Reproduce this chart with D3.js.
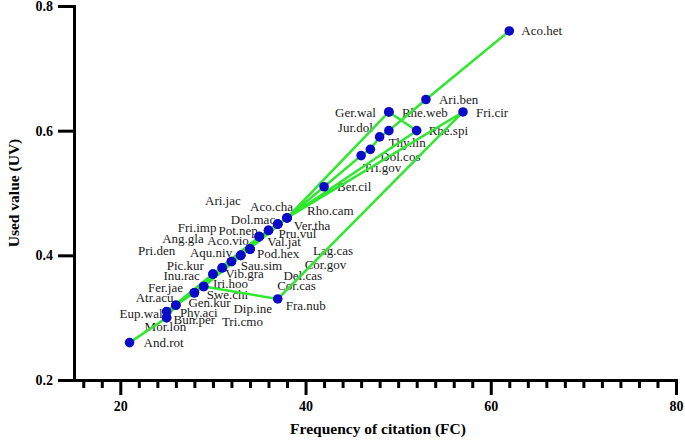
<!DOCTYPE html>
<html>
<head>
<meta charset="utf-8">
<script src="https://cdn.jsdelivr.net/npm/d3@7"></script>
<style>
  body { margin: 0; background: #fff; }
  svg text { font-family: "Liberation Serif", "Times New Roman", serif; }
</style>
</head>
<body>
<div id="container"></div>
<script>
/* CONSTANTS AND GLOBALS */
const width = 685,
  height = 440

// species in table order (the green line follows this order)
const species = ["Aco.het", "Ari.ben", "Jur.dol", "Thy.lin", "Dol.cos", "Tri.gov", "Ber.cil",
  "Rho.cam", "Ger.wal", "Rhe.web", "Rhe.spi", "Aco.cha", "Fri.cir", "Fra.nub", "Swe.chi",
  "Ari.jac", "Dol.mac", "Fer.jae", "Ver.tha", "Pot.nep", "Phy.aci", "Pru.vul", "Aco.vio",
  "Eup.wal", "Fri.imp", "Val.jat", "Ang.gla", "Pod.hex", "Pri.den", "Lag.cas", "Aqu.niv",
  "Sau.sim", "Cor.gov", "Pic.kur", "Del.cas", "Inu.rac", "Vib.gra", "Cor.cas", "Iri.hoo",
  "Atr.acu", "Gen.kur", "Dip.ine", "Tri.cmo", "Bun.per", "Mor.lon", "And.rot"]

// frequency of citation
const fc = [62, 53, 49, 48, 47, 46, 42,
  38, 49, 49, 52, 38, 57, 37, 29,
  38, 37, 30, 37, 36, 26, 36, 35,
  25, 37, 35, 35, 34, 34, 34, 34,
  33, 33, 33, 32, 32, 31, 31, 30,
  29, 28, 28, 26, 25, 25, 21]

// used value
const uv = [0.76, 0.65, 0.60, 0.59, 0.57, 0.56, 0.51,
  0.46, 0.63, 0.63, 0.60, 0.46, 0.63, 0.33, 0.35,
  0.46, 0.45, 0.37, 0.45, 0.44, 0.32, 0.44, 0.43,
  0.31, 0.45, 0.43, 0.43, 0.41, 0.41, 0.41, 0.41,
  0.40, 0.40, 0.40, 0.39, 0.39, 0.38, 0.38, 0.37,
  0.35, 0.34, 0.34, 0.32, 0.30, 0.30, 0.26]

const xMinorTicks = d3.range(16, 81, 2)
const xMajorTicks = [20, 40, 60, 80]
const yTicks = [0.2, 0.4, 0.6, 0.8]

// label placement (pixel offset from the dot, anchor)
const labelPos = {
  "Aco.het": [12, 0], "Ari.ben": [13, 0], "Ger.wal": [-13, 0, "end"], "Rhe.web": [13, 0],
  "Fri.cir": [13, 0], "Jur.dol": [-16, -3, "end"], "Rhe.spi": [12, 0], "Thy.lin": [9, 6],
  "Dol.cos": [10, 7], "Tri.gov": [2, 12], "Ber.cil": [13, 0],
  "Aco.cha": [-37, -11], "Rho.cam": [20, -7], "Ari.jac": [-82, -17],
  "Dol.mac": [-47, -5], "Ver.tha": [16, 1], "Fri.imp": [-100, 3],
  "Pot.nep": [-50, 0], "Pru.vul": [10, 3],
  "Ang.gla": [-97, 2], "Aco.vio": [-52, 4], "Val.jat": [8, 5],
  "Pri.den": [-112, 1], "Aqu.niv": [-60, 3], "Pod.hex": [7, 4], "Lag.cas": [63, 1],
  "Cor.gov": [64, 9], "Sau.sim": [0, 10], "Pic.kur": [-74, 10],
  "Inu.rac": [-68, 14], "Del.cas": [52, 14],
  "Vib.gra": [3, 6], "Cor.cas": [55, 18],
  "Iri.hoo": [0, 9], "Fer.jae": [-65, 13],
  "Swe.chi": [3, 8], "Atr.acu": [-68, 11],
  "Gen.kur": [-6, 10], "Dip.ine": [39, 16],
  "Phy.aci": [4, 7], "Tri.cmo": [46, 16],
  "Eup.wal": [-47, 2],
  "Bun.per": [7, 2], "Mor.lon": [-22, 9],
  "And.rot": [14, 0], "Fra.nub": [8, 6]
}

const data = species.map((s, i) => ({ name: s, fc: fc[i], uv: uv[i] }))

const svg = d3.select("#container")
  .append("svg")
  .attr("width", width)
  .attr("height", height)

/* SCALES */
const xScale = d3.scaleLinear()
  .domain([15, 80])
  .range([74, 676])

const yScale = d3.scaleLinear()
  .domain([0.2, 0.8])
  .range([380, 6])

/* LABELS */
svg.selectAll(".lbl")
  .data(data)
  .join("text")
  .attr("class", "lbl")
  .attr("x", d => xScale(d.fc) + labelPos[d.name][0])
  .attr("y", d => yScale(d.uv) + labelPos[d.name][1])
  .attr("dy", "0.35em")
  .attr("text-anchor", d => labelPos[d.name][2] || "start")
  .style("font-size", "13px")
  .style("fill", "#1a1a1a")
  .text(d => d.name)

/* LINE */
const line = d3.line()
  .x(d => xScale(d.fc))
  .y(d => yScale(d.uv))

svg.append("path")
  .datum(data)
  .attr("d", line)
  .attr("fill", "none")
  .attr("stroke", "#2ee82e")
  .attr("stroke-width", 2.5)
  .attr("stroke-linejoin", "round")

/* DOTS */
svg.selectAll(".dot")
  .data(data)
  .join("circle")
  .attr("class", "dot")
  .attr("cx", d => xScale(d.fc))
  .attr("cy", d => yScale(d.uv))
  .attr("r", 4.8)
  .style("fill", "#0a0ac8")

/* AXES */
const xMinor = svg.append("g")
  .attr("transform", `translate(0, 380)`)
  .call(d3.axisBottom(xScale).tickValues(xMinorTicks.filter(v => v % 20 !== 0)).tickSize(8).tickSizeOuter(0).tickFormat(""))
xMinor.select(".domain").remove()

const xMajor = svg.append("g")
  .attr("class", "x-axis")
  .attr("transform", `translate(0, 380)`)
  .call(d3.axisBottom(xScale).tickValues(xMajorTicks).tickSize(15).tickSizeOuter(0).tickPadding(6).tickFormat(d3.format("d")))

const yAxis = svg.append("g")
  .attr("class", "y-axis")
  .attr("transform", `translate(74, 0)`)
  .call(d3.axisLeft(yScale).tickValues(yTicks).tickSize(16).tickSizeOuter(0).tickPadding(5).tickFormat(d3.format(".1f")))

svg.selectAll(".tick line")
  .attr("stroke", "#000")
  .attr("stroke-width", 3)
svg.selectAll(".domain")
  .attr("stroke", "#000")
  .attr("stroke-width", 3)
  .attr("stroke-linecap", "square")
svg.selectAll(".x-axis text, .y-axis text")
  .style("font-size", "14px")
  .style("font-weight", "bold")
  .style("font-family", "'Liberation Serif', serif")
  .attr("fill", "#000")

/* AXIS TITLES */
svg.append("text")
  .attr("x", 378)
  .attr("y", 429)
  .attr("dy", "0.35em")
  .attr("text-anchor", "middle")
  .style("font-size", "15.5px")
  .style("font-weight", "bold")
  .text("Frequency of citation (FC)")

svg.append("text")
  .attr("transform", "translate(14, 193) rotate(-90)")
  .attr("dy", "0.35em")
  .attr("text-anchor", "middle")
  .style("font-size", "15.5px")
  .style("font-weight", "bold")
  .text("Used value (UV)")
</script>
</body>
</html>
